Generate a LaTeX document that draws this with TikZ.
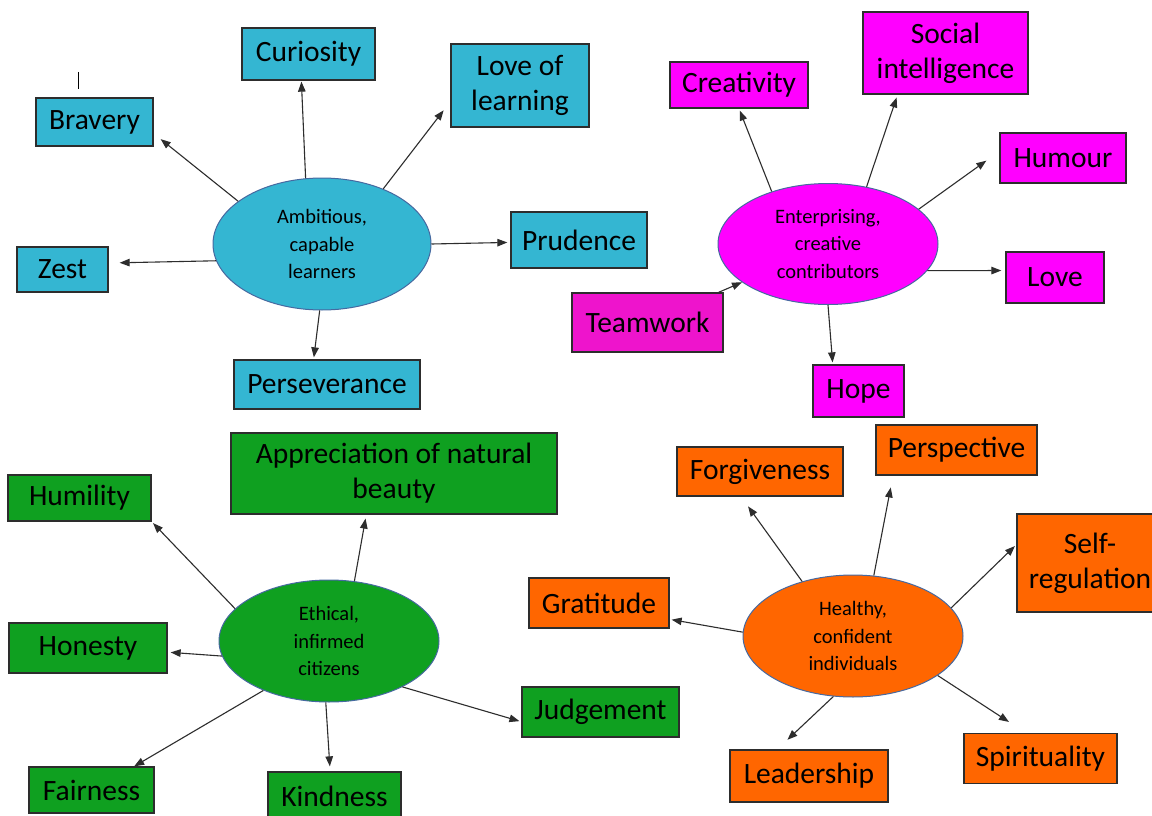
\documentclass[tikz,border=0pt]{standalone}
\usepackage{fontspec}
\setmainfont{Carlito}
\usetikzlibrary{arrows.meta,shapes.geometric}
\definecolor{CsBlue}{RGB}{52,182,210}
\definecolor{CsMagenta}{RGB}{255,0,255}
\definecolor{CsRose}{RGB}{238,20,204}
\definecolor{CsGreen}{RGB}{15,160,32}
\definecolor{CsOrange}{RGB}{255,102,0}
\definecolor{CsLine}{RGB}{45,45,45}
\definecolor{CsRim}{RGB}{70,105,160}
\tikzset{
  cs/box/.style={
    rectangle,
    draw=CsLine,
    line width=1.3pt,
    align=center,
    text=black,
    inner sep=0pt,
    font=\fontsize{29.5}{35}\selectfont
  },
  cs/oval/.style={
    ellipse,
    draw=CsRim,
    line width=1pt,
    align=center,
    text=black,
    inner sep=0pt,
    font=\fontsize{20.5}{27.5}\selectfont
  },
  cs/arrow/.style={-{Triangle[length=10pt,width=7.5pt]}, line width=1.1pt, draw=CsLine}
}
\begin{document}
\begin{tikzpicture}[x=1pt,y=1pt]
  \clip (0,0) rectangle (1152,-816);
  \fill[white] (0,0) rectangle (1152,-816);
  \draw[line width=1pt] (78,-72) -- (78,-89);

  \node[cs/oval,fill=CsBlue,minimum width=218pt,minimum height=132pt] (amb) at (322,-244) {Ambitious,\\capable\\learners};
  \node[cs/box,fill=CsBlue,minimum width=133pt,minimum height=52pt] (cur) at (308.5,-54) {Curiosity};
  \node[cs/box,fill=CsBlue,minimum width=117pt,minimum height=48pt] (brav) at (94.5,-122) {Bravery};
  \node[cs/box,fill=CsBlue,minimum width=138pt,minimum height=83pt] (lol) at (520,-85.5) {Love of\\learning};
  \node[cs/box,fill=CsBlue,minimum width=136pt,minimum height=56pt] (prud) at (579,-240) {Prudence};
  \node[cs/box,fill=CsBlue,minimum width=91pt,minimum height=45pt] (zest) at (62.5,-269.5) {Zest};
  \node[cs/box,fill=CsBlue,minimum width=186pt,minimum height=49pt] (pers) at (327,-384.5) {Perseverance};
  \draw[cs/arrow,shorten >=1pt] (amb.104) -- (cur.255);
  \draw[cs/arrow,shorten >=9pt] (amb.153) -- (brav.-11);
  \draw[cs/arrow,shorten >=11pt] (amb.42) -- (lol.193);
  \draw[cs/arrow,shorten >=3pt] (amb.0) -- (prud.182);
  \draw[cs/arrow,shorten >=11pt] (amb.189) -- (zest.8);
  \draw[cs/arrow,shorten >=2pt] (amb.268) -- (pers.118);

  \node[cs/oval,fill=CsMagenta,minimum width=220pt,minimum height=121pt] (ent) at (828,-244) {Enterprising,\\creative\\contributors};
  \node[cs/box,fill=CsMagenta,minimum width=138pt,minimum height=46pt] (crea) at (739,-85) {Creativity};
  \node[cs/box,fill=CsMagenta,minimum width=165pt,minimum height=82pt] (soc) at (945.5,-53) {Social\\intelligence};
  \node[cs/box,fill=CsMagenta,minimum width=126pt,minimum height=50pt] (hum) at (1063,-158) {Humour};
  \node[cs/box,fill=CsMagenta,minimum width=98pt,minimum height=51pt] (love) at (1055,-277.5) {Love};
  \node[cs/box,fill=CsMagenta,minimum width=91pt,minimum height=52pt] (hope) at (858.5,-391) {Hope};
  \node[cs/box,fill=CsRose,minimum width=151pt,minimum height=59pt] (team) at (647.5,-322.5) {Teamwork};
  \draw[cs/arrow,shorten >=2pt] (ent.137) -- (crea.south);
  \draw[cs/arrow,shorten >=3pt] (ent.56) -- (soc.221);
  \draw[cs/arrow,shorten >=16pt] (ent.21) -- (hum.174);
  \draw[cs/arrow,shorten >=4pt] (ent.-15) -- (love.172);
  \draw[cs/arrow,shorten >=2pt] (ent.270) -- (hope.134);
  \draw[cs/arrow] (team.23) -- (ent.204);

  \node[cs/oval,fill=CsGreen,minimum width=220pt,minimum height=122pt] (eth) at (329,-641) {Ethical,\\infirmed\\citizens};
  \node[cs/box,fill=CsGreen,minimum width=326pt,minimum height=81pt] (appr) at (394,-473.5) {Appreciation of natural\\beauty};
  \node[cs/box,fill=CsGreen,minimum width=143pt,minimum height=46pt] (humi) at (79.5,-498) {Humility};
  \node[cs/box,fill=CsGreen,minimum width=158pt,minimum height=50pt] (hone) at (88,-648) {Honesty};
  \node[cs/box,fill=CsGreen,minimum width=125pt,minimum height=46pt] (fair) at (91.5,-790) {Fairness};
  \node[cs/box,fill=CsGreen,minimum width=133pt,minimum height=48pt] (kind) at (334.5,-796) {Kindness};
  \node[cs/box,fill=CsGreen,minimum width=157pt,minimum height=50pt] (judg) at (600.5,-712) {Judgement};
  \draw[cs/arrow,shorten >=4pt] (eth.67) -- (appr.236);
  \draw[cs/arrow,shorten >=2pt] (eth.161) -- (humi.south east);
  \draw[cs/arrow,shorten >=3pt] (eth.188) -- (hone.-3);
  \draw[cs/arrow] (eth.217) -- (fair.29);
  \draw[cs/arrow,shorten >=5pt] (eth.267) -- (kind.100);
  \draw[cs/arrow,shorten >=2pt] (eth.328) -- (judg.187);

  \node[cs/oval,fill=CsOrange,minimum width=220pt,minimum height=122pt] (hea) at (853,-636) {Healthy,\\confident\\individuals};
  \node[cs/box,fill=CsOrange,minimum width=166pt,minimum height=49pt] (forg) at (760,-471.5) {Forgiveness};
  \node[cs/box,fill=CsOrange,minimum width=161pt,minimum height=50pt] (persp) at (956.5,-450) {Perspective};
  \node[cs/box,fill=CsOrange,minimum width=146pt,minimum height=98pt] (self) at (1090,-563) {Self-\\regulation};
  \node[cs/box,fill=CsOrange,minimum width=140pt,minimum height=50pt] (grat) at (599,-603) {Gratitude};
  \node[cs/box,fill=CsOrange,minimum width=158pt,minimum height=52pt] (lead) at (809,-776) {Leadership};
  \node[cs/box,fill=CsOrange,minimum width=153pt,minimum height=50pt] (spir) at (1040.5,-758.5) {Spirituality};
  \draw[cs/arrow,shorten >=12pt] (hea.133) -- (forg.233);
  \draw[cs/arrow,shorten >=12pt] (hea.71) -- (persp.202);
  \draw[cs/arrow,shorten >=2pt] (hea.16) -- (self.166);
  \draw[cs/arrow,shorten >=2pt] (hea.178) -- (grat.-13);
  \draw[cs/arrow,shorten >=14pt] (hea.252) -- (lead.140);
  \draw[cs/arrow,shorten >=20pt] (hea.335) -- (spir.120);
\end{tikzpicture}
\end{document}
